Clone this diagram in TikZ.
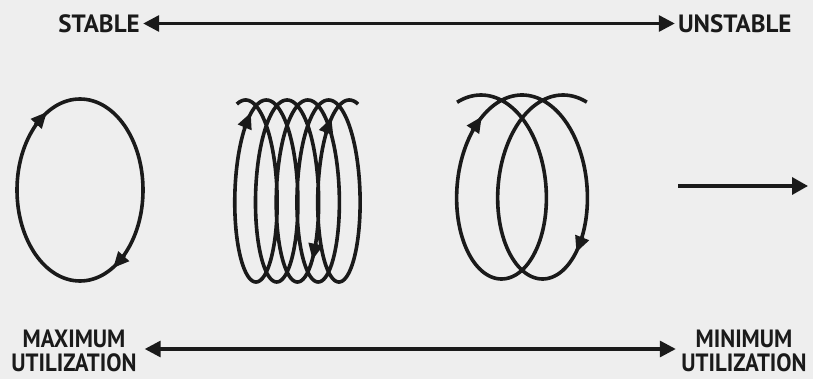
\documentclass[tikz,border=0pt]{standalone}
\usepackage{fontspec}
\setsansfont{PT Sans}
\newfontfamily\estrecha[FakeStretch=0.91]{PT Sans}
\usepackage{tikz}
\usetikzlibrary{arrows.meta,positioning,calc}
\definecolor{tinta}{HTML}{1A1A1A}
\definecolor{papel}{HTML}{EEEEEE}
% punta de flecha sobre la curva x = x0 + c t + a sin t, y = yc - b cos t
\newcommand{\puntaen}[6]{%
  \pgfmathsetmacro{\ptx}{#1+#2*#6+#3*sin(#6 r)}
  \pgfmathsetmacro{\pty}{#5-#4*cos(#6 r)}
  \pgfmathsetmacro{\dirx}{#2+#3*cos(#6 r)}
  \pgfmathsetmacro{\diry}{#4*sin(#6 r)}
  \pgfmathsetmacro{\dirn}{sqrt(\dirx*\dirx+\diry*\diry)}
  \draw[punta] (\ptx-9*\dirx/\dirn,\pty-9*\diry/\dirn) -- (\ptx+8*\dirx/\dirn,\pty+8*\diry/\dirn);}

\begin{document}
\begin{tikzpicture}[x=1pt,y=-1pt,
  etiqueta/.style={text=tinta,inner xsep=3pt,inner ysep=0pt,align=center,
                   font=\sffamily\bfseries\fontsize{25}{24}\selectfont},
  rotulo/.style={etiqueta,font=\estrecha\bfseries\fontsize{25}{24}\selectfont},
  trazo/.style={draw=tinta,line width=3.6pt,line join=round},
  punta/.style={draw=tinta,line width=3.6pt,-{Triangle[length=16pt,width=14pt]}},
  flecha/.style={draw=tinta,line width=3.4pt,-{Triangle[length=16pt,width=17pt]}},
  doble/.style={draw=tinta,line width=3.2pt,{Triangle[length=16pt,width=16pt]}-{Triangle[length=16pt,width=16pt]}}
]
\fill[papel] (0,0) rectangle (813,379);
\useasboundingbox (0,0) rectangle (813,379);
% escala superior
\node[etiqueta,text width=82pt] (estable) at (99,23.5) {STABLE};
\node[etiqueta,text width=110pt] (inestable) at (733,23.5) {UNSTABLE};
\draw[doble] (estable) -- (inestable);
% escala inferior
\node[rotulo,text width=135pt] (maxima) at (74,351) {MAXIMUM\\UTILIZATION};
\node[rotulo,text width=130pt] (minima) at (744,351) {MINIMUM\\UTILIZATION};
\draw[doble] ([yshift=2pt]maxima.east) -- ([yshift=2pt]minima.west);
% ciclo cerrado
\draw[trazo] (80,190) ellipse [x radius=63, y radius=91];
\puntaen{80}{0}{63}{91}{190}{5.626}
\puntaen{80}{0}{63}{91}{190}{2.485}
% espiral apretada
\draw[trazo] plot[domain=-0.3:31.72,samples=600,variable=\t]
  ({245.6+3.3*\t+26.2*sin(\t r)},{191-91*cos(\t r)});
\puntaen{245.6}{3.3}{26.2}{91}{191}{5.608}
\puntaen{245.6}{3.3}{26.2}{91}{191}{30.656}
\puntaen{245.6}{3.3}{26.2}{91}{191}{14.871}
% espiral abierta
\draw[trazo] plot[domain=-0.4:12.966,samples=300,variable=\t]
  ({481+6.53*\t+54.76*sin(\t r)},{187-92*cos(\t r)});
\puntaen{481}{6.53}{54.76}{92}{187}{5.48}
\puntaen{481}{6.53}{54.76}{92}{187}{8.535}
% deriva
\coordinate (salida) at (678,186);
\coordinate (llegada) at (808,186);
\draw[flecha] (salida) -- (llegada);
\end{tikzpicture}
\end{document}
